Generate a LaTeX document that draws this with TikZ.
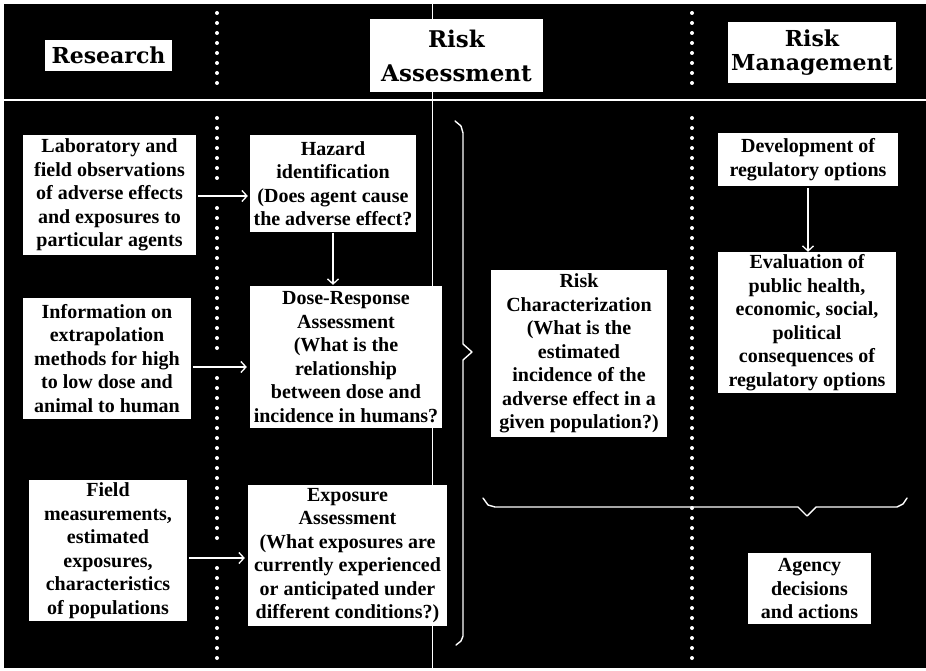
\documentclass[tikz,border=0pt]{standalone}
\usepackage{fontspec}
\usetikzlibrary{arrows.meta}
\newfontfamily\bodyfont{Liberation Serif}
\newfontfamily\headfont{DejaVu Serif}
\begin{document}
\begin{tikzpicture}[x=1pt,y=-1pt,
  box/.style={fill=white,text=black,inner sep=0pt,align=center,
    font=\bodyfont\bfseries\fontsize{20}{23.5}\selectfont},
  hbox/.style={fill=white,text=black,inner sep=0pt,align=center,
    font=\headfont\bfseries\fontsize{22}{24}\selectfont},
  arr/.style={white,line width=1.4pt,-{Straight Barb[length=5pt,width=11pt,line width=1.3pt]}},
  wline/.style={white,line width=1.4pt},
  brace/.style={white,line width=1.4pt,line join=round,line cap=round},
  dot/.style={white}
]
\useasboundingbox (0,0) rectangle (926,671);
\fill[white] (0,0) rectangle (926,671);
\fill[black] (4,4) rectangle (926,668);
% thin vertical line and horizontal divider
\draw[white,line width=0.9pt] (432,4) -- (432,668);
\draw[wline] (4,100) -- (926,100);
% dotted separators
\foreach \y in {13,23,...,83} {\fill[dot] (217,\y) circle (2); \fill[dot] (692,\y) circle (2);}
\foreach \y in {118,128,...,178,208,218,...,348,378,388,...,538,568,578,...,658} {\fill[dot] (217,\y) circle (2);}
\foreach \y in {118,128,...,658} {\fill[dot] (692,\y) circle (2);}
% headers
\node[hbox,minimum width=127,minimum height=31] (res) at (108.5,55.5) {Research};
\node[hbox,minimum width=173,minimum height=73,font=\headfont\bfseries\fontsize{23}{24}\selectfont] (ra) at (456.5,55.5) {Risk\\[10pt]Assessment};
\node[hbox,minimum width=168,minimum height=61] (rm) at (812,52.5) {Risk\\Management};
% research column
\node[box,minimum width=173,minimum height=120] (l1) at (109.5,195) {Laboratory and\\field observations\\of adverse effects\\and exposures to\\particular agents};
\node[box,minimum width=168,minimum height=121] (l2) at (107,358.5) {Information on\\extrapolation\\methods for high\\to low dose and\\animal to human};
\node[box,minimum width=158,minimum height=141] (l3) at (108,550.5) {Field\\measurements,\\estimated\\exposures,\\characteristics\\of populations};
% risk assessment column
\node[box,minimum width=166,minimum height=97] (m1) at (333,183.5) {Hazard\\identification\\(Does agent cause\\the adverse effect?};
\node[box,minimum width=192,minimum height=142] (m2) at (346,357) {Dose-Response\\Assessment\\(What is the\\relationship\\between dose and\\incidence in humans?};
\node[box,minimum width=199,minimum height=141] (m3) at (347.5,555.5) {Exposure\\Assessment\\(What exposures are\\currently experienced\\or anticipated under\\different conditions?)};
\node[box,minimum width=176,minimum height=167] (rc) at (579,353.5) {Risk\\Characterization\\(What is the\\estimated\\incidence of the\\adverse effect in a\\given population?)};
% risk management column
\node[box,minimum width=180,minimum height=53] (dev) at (808,159.5) {Development of\\regulatory options};
\node[box,minimum width=178,minimum height=141] (ev) at (807,322.5) {Evaluation of\\public health,\\economic, social,\\political\\consequences of\\regulatory options};
\node[box,minimum width=123,minimum height=71] (ag) at (809.5,588.5) {Agency\\decisions\\and actions};
% arrows
\draw[arr,shorten <=2pt,shorten >=2pt] ([yshift=-1pt]l1.east) -- ([yshift=-1pt]l1.east -| m1.west);
\draw[arr,shorten <=1pt,shorten >=1pt] (m1.south) -- (m1.south |- m2.north);
\draw[arr,shorten <=2pt,shorten >=3pt] ([yshift=-8.5pt]l2.east) -- ([yshift=-8.5pt]l2.east -| m2.west);
\draw[arr,shorten <=2pt,shorten >=3pt] ([yshift=-7.5pt]l3.east) -- ([yshift=-7.5pt]l3.east -| m3.west);
\draw[arr,shorten <=2pt,shorten >=0pt] (dev.south) -- (dev.south |- ev.north);
% braces
\coordinate (vb1) at (455,121);
\coordinate (vbt) at (472,352);
\coordinate (vb2) at (456,645);
\draw[brace] (vb1) -- (461,126) -- (463,133) -- (463,344) -- (vbt) -- (463,360) -- (463,636) -- (461,641) -- (vb2);
\coordinate (hb1) at (483,498);
\coordinate (hbt) at (807,516);
\coordinate (hb2) at (907,498);
\draw[brace] (hb1) -- (488,505) -- (495,507) -- (798,507) -- (hbt) -- (816,507) -- (897,507) -- (903,504) -- (hb2);
\end{tikzpicture}
\end{document}
